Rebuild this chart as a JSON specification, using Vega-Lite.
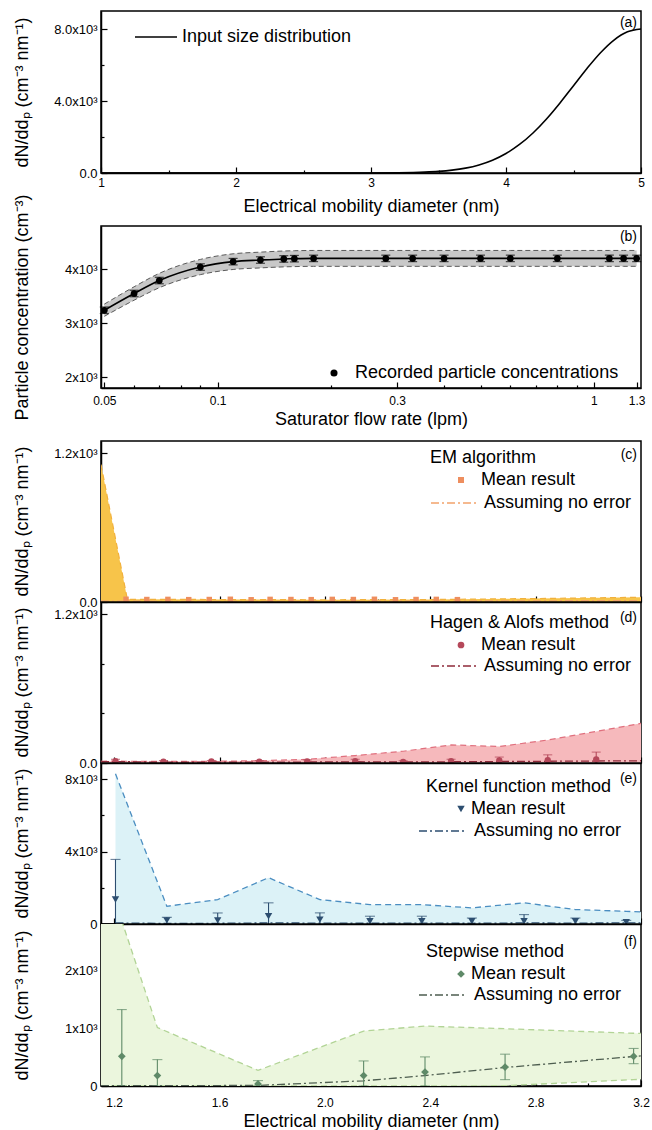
{
"$schema": "https://vega.github.io/schema/vega-lite/v6.json",
"padding": {"left": 12, "top": 10, "right": 3, "bottom": 0},
"spacing": 53,
"bounds": "flush",
"resolve": {"scale": {"color": "independent", "strokeDash": "independent"}, "legend": {"color": "independent", "strokeDash": "independent"}},
"datasets": {
"a_curve": [{"d":1,"n":0},{"d":1.5,"n":0},{"d":2,"n":0},{"d":2.5,"n":0},{"d":3,"n":3},{"d":3.2,"n":12},{"d":3.4,"n":48},{"d":3.5,"n":89},{"d":3.6,"n":159},{"d":3.7,"n":272},{"d":3.8,"n":449},{"d":3.9,"n":711},{"d":4.0,"n":1083},{"d":4.1,"n":1584},{"d":4.2,"n":2224},{"d":4.3,"n":3003},{"d":4.4,"n":3894},{"d":4.5,"n":4852},{"d":4.6,"n":5809},{"d":4.7,"n":6683},{"d":4.8,"n":7385},{"d":4.9,"n":7842},{"d":5.0,"n":8000}],
"b_pts": [
{"q":0.05,"c":3240,"lo":3127,"hi":3353,"elo":3180,"ehi":3300},
{"q":0.06,"c":3550,"lo":3426,"hi":3674,"elo":3490,"ehi":3610},
{"q":0.07,"c":3790,"lo":3657,"hi":3923,"elo":3730,"ehi":3850},
{"q":0.09,"c":4040,"lo":3899,"hi":4181,"elo":3980,"ehi":4100},
{"q":0.11,"c":4140,"lo":3995,"hi":4285,"elo":4080,"ehi":4200},
{"q":0.13,"c":4170,"lo":4024,"hi":4316,"elo":4110,"ehi":4230},
{"q":0.15,"c":4190,"lo":4043,"hi":4337,"elo":4130,"ehi":4250},
{"q":0.16,"c":4195,"lo":4048,"hi":4342,"elo":4135,"ehi":4255},
{"q":0.18,"c":4200,"lo":4053,"hi":4347,"elo":4140,"ehi":4260},
{"q":0.28,"c":4200,"lo":4053,"hi":4347,"elo":4140,"ehi":4260},
{"q":0.33,"c":4200,"lo":4053,"hi":4347,"elo":4140,"ehi":4260},
{"q":0.4,"c":4200,"lo":4053,"hi":4347,"elo":4140,"ehi":4260},
{"q":0.5,"c":4200,"lo":4053,"hi":4347,"elo":4140,"ehi":4260},
{"q":0.6,"c":4200,"lo":4053,"hi":4347,"elo":4140,"ehi":4260},
{"q":0.8,"c":4200,"lo":4053,"hi":4347,"elo":4140,"ehi":4260},
{"q":1.1,"c":4200,"lo":4053,"hi":4347,"elo":4140,"ehi":4260},
{"q":1.2,"c":4200,"lo":4053,"hi":4347,"elo":4140,"ehi":4260},
{"q":1.3,"c":4200,"lo":4053,"hi":4347,"elo":4140,"ehi":4260}],
"c_band": [{"d":1.15,"lo":0,"hi":1110},{"d":1.25,"lo":0,"hi":22},{"d":1.6,"lo":0,"hi":20},{"d":2.0,"lo":0,"hi":18},{"d":2.4,"lo":0,"hi":20},{"d":2.8,"lo":0,"hi":28},{"d":3.2,"lo":0,"hi":38}],
"c_pts": [{"d":1.245,"m":22},{"d":1.324,"m":20},{"d":1.404,"m":21},{"d":1.483,"m":19},{"d":1.561,"m":20},{"d":1.641,"m":22},{"d":1.72,"m":18},{"d":1.792,"m":21},{"d":1.871,"m":20},{"d":1.948,"m":19},{"d":2.028,"m":21},{"d":2.108,"m":20},{"d":2.188,"m":22},{"d":2.268,"m":18},{"d":2.346,"m":20},{"d":2.423,"m":21},{"d":2.503,"m":19}],
"c_ne": [{"d":1.15,"v":8},{"d":1.25,"v":6},{"d":2.0,"v":5},{"d":2.6,"v":8},{"d":3.2,"v":12}],
"d_band": [{"d":1.15,"lo":0,"hi":14},{"d":1.205,"lo":0,"hi":15},{"d":1.387,"lo":0,"hi":12},{"d":1.569,"lo":0,"hi":14},{"d":1.751,"lo":0,"hi":18},{"d":1.933,"lo":0,"hi":30},{"d":2.115,"lo":0,"hi":60},{"d":2.297,"lo":0,"hi":95},{"d":2.479,"lo":0,"hi":146},{"d":2.662,"lo":0,"hi":133},{"d":2.846,"lo":0,"hi":186},{"d":3.03,"lo":0,"hi":255},{"d":3.2,"lo":0,"hi":320}],
"d_pts": [{"d":1.205,"m":15,"elo":2,"ehi":30},{"d":1.387,"m":10,"elo":2,"ehi":20},{"d":1.569,"m":12,"elo":3,"ehi":20},{"d":1.751,"m":10,"elo":2,"ehi":20},{"d":1.933,"m":12,"elo":2,"ehi":25},{"d":2.115,"m":15,"elo":2,"ehi":30},{"d":2.297,"m":8,"elo":0,"ehi":18},{"d":2.479,"m":15,"elo":2,"ehi":30},{"d":2.662,"m":20,"elo":0,"ehi":48},{"d":2.846,"m":22,"elo":0,"ehi":66},{"d":3.03,"m":28,"elo":0,"ehi":88}],
"d_ne": [{"d":1.15,"v":10},{"d":1.205,"v":12},{"d":1.387,"v":6},{"d":1.569,"v":8},{"d":1.751,"v":6},{"d":1.933,"v":8},{"d":2.115,"v":10},{"d":2.297,"v":8},{"d":2.479,"v":10},{"d":2.662,"v":12},{"d":2.846,"v":14},{"d":3.03,"v":16},{"d":3.2,"v":18}],
"e_band": [{"d":1.205,"lo":0,"hi":8300},{"d":1.40,"lo":0,"hi":980},{"d":1.593,"lo":0,"hi":1350},{"d":1.786,"lo":0,"hi":2560},{"d":1.981,"lo":0,"hi":1350},{"d":2.171,"lo":0,"hi":1070},{"d":2.368,"lo":0,"hi":1070},{"d":2.558,"lo":0,"hi":890},{"d":2.756,"lo":0,"hi":1170},{"d":2.951,"lo":0,"hi":800},{"d":3.144,"lo":0,"hi":700},{"d":3.2,"lo":0,"hi":670}],
"e_pts": [{"d":1.205,"m":1350,"elo":0,"ehi":3570},{"d":1.40,"m":200,"elo":0,"ehi":370},{"d":1.593,"m":200,"elo":0,"ehi":610},{"d":1.786,"m":430,"elo":0,"ehi":1170},{"d":1.981,"m":240,"elo":0,"ehi":615},{"d":2.171,"m":150,"elo":0,"ehi":430},{"d":2.368,"m":150,"elo":0,"ehi":430},{"d":2.558,"m":150,"elo":0,"ehi":330},{"d":2.756,"m":150,"elo":0,"ehi":520},{"d":2.951,"m":150,"elo":0,"ehi":330},{"d":3.144,"m":100,"elo":0,"ehi":200}],
"e_ne": [{"d":1.205,"v":60},{"d":1.40,"v":30},{"d":1.593,"v":40},{"d":1.786,"v":60},{"d":1.981,"v":50},{"d":2.171,"v":40},{"d":2.368,"v":50},{"d":2.558,"v":40},{"d":2.756,"v":60},{"d":2.951,"v":50},{"d":3.144,"v":60},{"d":3.2,"v":60}],
"f_band": [{"d":1.15,"lo":0,"hi":4200},{"d":1.229,"lo":0,"hi":2850},{"d":1.364,"lo":0,"hi":1010},{"d":1.746,"lo":0,"hi":270},{"d":2.147,"lo":0,"hi":950},{"d":2.38,"lo":0,"hi":1035},{"d":2.684,"lo":5,"hi":990},{"d":3.172,"lo":110,"hi":912},{"d":3.2,"lo":115,"hi":910}],
"f_pts": [{"d":1.229,"m":514,"elo":0,"ehi":1321},{"d":1.364,"m":181,"elo":0,"ehi":456},{"d":1.746,"m":35,"elo":0,"ehi":93},{"d":2.147,"m":181,"elo":0,"ehi":433},{"d":2.38,"m":240,"elo":0,"ehi":503},{"d":2.684,"m":327,"elo":110,"ehi":550},{"d":3.172,"m":514,"elo":386,"ehi":649}],
"f_ne": [{"d":1.15,"v":5},{"d":1.229,"v":5},{"d":1.364,"v":5},{"d":1.746,"v":10},{"d":2.147,"v":90},{"d":2.38,"v":180},{"d":2.684,"v":320},{"d":3.172,"v":510},{"d":3.2,"v":520}]
},
"vconcat": [
{
 "width": 540, "height": 162,
 "layer": [
  {"data": {"name": "a_curve"},
   "mark": {"type": "line", "strokeWidth": 1.6, "interpolate": "monotone"},
   "encoding": {
    "x": {"field": "d", "type": "quantitative", "scale": {"domain": [1, 5], "nice": false, "zero": false},
          "axis": {"values": [1,1.5,2,2.5,3,3.5,4,4.5,5], "labelExpr": "datum.value % 1 === 0 ? format(datum.value, 'd') : ''",
                   "tickSize": {"condition": {"test": "datum.value % 1 !== 0", "value": -3}, "value": -6},
                   "title": "Electrical mobility diameter (nm)", "labelPadding": 10, "titleY": 33, "titleBaseline": "middle"}},
    "y": {"field": "n", "type": "quantitative", "scale": {"domain": [0, 9000], "nice": false},
          "axis": {"values": [0,2000,4000,6000,8000],
                   "labelExpr": "datum.value === 0 ? '0.0' : datum.value === 4000 ? '4.0x10³' : datum.value === 8000 ? '8.0x10³' : ''",
                   "tickSize": {"condition": {"test": "datum.value % 4000 !== 0", "value": -3}, "value": -6},
                   "title": "dN/ddₚ (cm⁻³ nm⁻¹)", "titleX": -79, "titleY": 81, "titleBaseline": "middle", "titleAlign": "center"}},
    "color": {"datum": "Input size distribution", "scale": {"range": ["#000000"]},
              "legend": {"orient": "none", "legendX": 33, "legendY": 4, "title": null, "symbolType": "stroke", "symbolSize": 1764, "symbolStrokeWidth": 1.6, "labelOffset": 4}}
   }},
  {"data": {"values": [{}]},
   "mark": {"type": "text", "text": "(a)", "align": "right", "baseline": "top", "dx": -4, "dy": 5, "fontSize": 14},
   "encoding": {"x": {"datum": 5}, "y": {"datum": 9000}}}
 ]
},
{
 "width": 540, "height": 162,
 "layer": [
  {"data": {"name": "b_pts"},
   "mark": {"type": "area", "color": "#c8c8c8", "opacity": 1, "interpolate": "monotone"},
   "encoding": {
    "x": {"field": "q", "type": "quantitative", "scale": {"type": "log", "domain": [0.049, 1.335], "nice": false},
          "axis": {"values": [0.05,0.06,0.07,0.08,0.09,0.1,0.2,0.3,0.4,0.5,0.6,0.7,0.8,0.9,1,1.3],
                   "labelExpr": "indexof([0.05,0.1,0.3,1,1.3], datum.value) >= 0 ? format(datum.value, '~g') : ''",
                   "tickSize": {"condition": {"test": "indexof([0.05,0.1,0.3,1,1.3], datum.value) < 0", "value": -3}, "value": -6},
                   "title": "Saturator flow rate (lpm)", "labelPadding": 13, "titleY": 31, "titleBaseline": "middle"}},
    "y": {"field": "lo", "type": "quantitative", "scale": {"domain": [1800, 4800], "nice": false, "zero": false},
          "axis": {"values": [2000,2500,3000,3500,4000,4500],
                   "labelExpr": "datum.value % 1000 === 0 ? (datum.value/1000) + 'x10³' : ''",
                   "tickSize": {"condition": {"test": "datum.value % 1000 !== 0", "value": -3}, "value": -6},
                   "title": "Particle concentration (cm⁻³)", "titleX": -79, "titleY": 81, "titleBaseline": "middle", "titleAlign": "center"}},
    "y2": {"field": "hi"}
   }},
  {"data": {"name": "b_pts"},
   "mark": {"type": "line", "color": "#5a5a5a", "strokeDash": [5, 3], "strokeWidth": 1, "interpolate": "monotone"},
   "encoding": {"x": {"field": "q", "type": "quantitative"}, "y": {"field": "lo", "type": "quantitative"}}},
  {"data": {"name": "b_pts"},
   "mark": {"type": "line", "color": "#5a5a5a", "strokeDash": [5, 3], "strokeWidth": 1, "interpolate": "monotone"},
   "encoding": {"x": {"field": "q", "type": "quantitative"}, "y": {"field": "hi", "type": "quantitative"}}},
  {"data": {"name": "b_pts"},
   "mark": {"type": "line", "color": "#000000", "strokeWidth": 1.6, "interpolate": "monotone"},
   "encoding": {"x": {"field": "q", "type": "quantitative"}, "y": {"field": "c", "type": "quantitative"}}},
  {"data": {"name": "b_pts"},
   "mark": {"type": "rule", "color": "#000000", "strokeWidth": 1.2},
   "encoding": {"x": {"field": "q", "type": "quantitative"}, "y": {"field": "elo", "type": "quantitative"}, "y2": {"field": "ehi"}}},
  {"data": {"name": "b_pts"},
   "mark": {"type": "tick", "orient": "horizontal", "color": "#000000", "size": 9, "thickness": 1.2},
   "encoding": {"x": {"field": "q", "type": "quantitative"}, "y": {"field": "ehi", "type": "quantitative"}}},
  {"data": {"name": "b_pts"},
   "mark": {"type": "tick", "orient": "horizontal", "color": "#000000", "size": 9, "thickness": 1.2},
   "encoding": {"x": {"field": "q", "type": "quantitative"}, "y": {"field": "elo", "type": "quantitative"}}},
  {"data": {"name": "b_pts"},
   "mark": {"type": "point", "shape": "circle", "filled": true, "size": 45, "opacity": 1},
   "encoding": {"x": {"field": "q", "type": "quantitative"}, "y": {"field": "c", "type": "quantitative"},
    "color": {"datum": "Recorded particle concentrations", "scale": {"range": ["#000000"]},
              "legend": {"orient": "none", "legendX": 224, "legendY": 138, "title": null, "symbolType": "circle", "symbolSize": 50, "labelOffset": 12}}}},
  {"data": {"values": [{}]},
   "mark": {"type": "text", "text": "(b)", "align": "right", "baseline": "top", "dx": -4, "dy": 4, "fontSize": 14},
   "encoding": {"x": {"datum": 1.335}, "y": {"datum": 4800}}}
 ]
},
{
 "vconcat": [
 {
  "width": 540, "height": 161,
  "layer": [
   {"data": {"name": "c_band"},
    "mark": {"type": "area", "color": "#f7c44a", "opacity": 1, "clip": true},
    "encoding": {
     "x": {"field": "d", "type": "quantitative", "scale": {"domain": [1.15, 3.2], "nice": false, "zero": false},
           "axis": {"values": [1.2,1.4,1.6,1.8,2.0,2.2,2.4,2.6,2.8,3.0,3.2], "labels": false, "title": null,
                    "tickSize": {"condition": {"test": "abs((datum.value-1.2)/0.4 - round((datum.value-1.2)/0.4)) > 0.01", "value": -3}, "value": -6}}},
     "y": {"field": "lo", "type": "quantitative", "scale": {"domain": [0, 1300], "nice": false},
           "axis": {"values": [0,200,400,600,800,1000,1200],
                    "labelExpr": "datum.value === 0 ? '0.0' : datum.value === 600 ? '6.0x10²' : datum.value === 1200 ? '1.2x10³' : ''",
                    "tickSize": {"condition": {"test": "datum.value % 600 !== 0", "value": -3}, "value": -6},
                    "title": "dN/ddₚ (cm⁻³ nm⁻¹)", "titleX": -79, "titleY": 80, "titleBaseline": "middle", "titleAlign": "center"}},
     "y2": {"field": "hi"}
    }},
   {"data": {"name": "c_band"},
    "mark": {"type": "line", "color": "#f2b13c", "strokeDash": [6, 4], "strokeWidth": 1.2, "clip": true},
    "encoding": {"x": {"field": "d", "type": "quantitative"}, "y": {"field": "hi", "type": "quantitative"}}},
   {"data": {"name": "c_ne"},
    "mark": {"type": "line", "color": "#f2a36b", "strokeWidth": 1.3, "clip": true},
    "encoding": {"x": {"field": "d", "type": "quantitative"}, "y": {"field": "v", "type": "quantitative"},
     "strokeDash": {"datum": "Assuming no error", "scale": {"range": [[8, 3, 2, 3]]},
                    "legend": {"orient": "none", "legendX": 329, "legendY": 38, "title": null, "symbolType": "stroke", "symbolSize": 2116, "symbolStrokeColor": "#f2a36b", "symbolStrokeWidth": 1.5, "labelOffset": 6}}}},
   {"data": {"name": "c_pts"},
    "mark": {"type": "point", "shape": "square", "filled": true, "size": 30, "opacity": 1, "clip": true},
    "encoding": {"x": {"field": "d", "type": "quantitative"}, "y": {"field": "m", "type": "quantitative"},
     "color": {"datum": "Mean result", "scale": {"range": ["#ee8e5e"]},
               "legend": {"orient": "none", "legendX": 329, "legendY": 8, "title": "EM algorithm", "symbolType": "square", "symbolSize": 36, "symbolOffset": 22, "labelOffset": 11, "titlePadding": 4}}}},
   {"data": {"values": [{}]},
    "mark": {"type": "text", "text": "(c)", "align": "right", "baseline": "top", "dx": -4, "dy": 7, "fontSize": 14},
    "encoding": {"x": {"datum": 3.2}, "y": {"datum": 1300}}}
  ]
 },
 {
  "width": 540, "height": 161,
  "layer": [
   {"data": {"name": "d_band"},
    "mark": {"type": "area", "color": "#f6b9bc", "opacity": 1, "clip": true},
    "encoding": {
     "x": {"field": "d", "type": "quantitative", "scale": {"domain": [1.15, 3.2], "nice": false, "zero": false},
           "axis": {"values": [1.2,1.4,1.6,1.8,2.0,2.2,2.4,2.6,2.8,3.0,3.2], "labels": false, "title": null,
                    "tickSize": {"condition": {"test": "abs((datum.value-1.2)/0.4 - round((datum.value-1.2)/0.4)) > 0.01", "value": -3}, "value": -6}}},
     "y": {"field": "lo", "type": "quantitative", "scale": {"domain": [0, 1300], "nice": false},
           "axis": {"values": [0,200,400,600,800,1000,1200],
                    "labelExpr": "datum.value === 0 ? '0.0' : datum.value === 600 ? '6.0x10²' : datum.value === 1200 ? '1.2x10³' : ''",
                    "tickSize": {"condition": {"test": "datum.value % 600 !== 0", "value": -3}, "value": -6},
                    "title": "dN/ddₚ (cm⁻³ nm⁻¹)", "titleX": -79, "titleY": 80, "titleBaseline": "middle", "titleAlign": "center"}},
     "y2": {"field": "hi"}
    }},
   {"data": {"name": "d_band"},
    "mark": {"type": "line", "color": "#e0707e", "strokeDash": [6, 4], "strokeWidth": 1.2, "clip": true},
    "encoding": {"x": {"field": "d", "type": "quantitative"}, "y": {"field": "hi", "type": "quantitative"}}},
   {"data": {"name": "d_ne"},
    "mark": {"type": "line", "color": "#8e2a3a", "strokeWidth": 1.3, "clip": true},
    "encoding": {"x": {"field": "d", "type": "quantitative"}, "y": {"field": "v", "type": "quantitative"},
     "strokeDash": {"datum": "Assuming no error", "scale": {"range": [[8, 3, 2, 3]]},
                    "legend": {"orient": "none", "legendX": 329, "legendY": 40, "title": null, "symbolType": "stroke", "symbolSize": 2116, "symbolStrokeColor": "#8e2a3a", "symbolStrokeWidth": 1.5, "labelOffset": 6}}}},
   {"data": {"name": "d_pts"},
    "mark": {"type": "rule", "color": "#b5485a", "strokeWidth": 1.1, "clip": true},
    "encoding": {"x": {"field": "d", "type": "quantitative"}, "y": {"field": "elo", "type": "quantitative"}, "y2": {"field": "ehi"}}},
   {"data": {"name": "d_pts"},
    "mark": {"type": "tick", "orient": "horizontal", "color": "#b5485a", "size": 9, "thickness": 1.1, "clip": true},
    "encoding": {"x": {"field": "d", "type": "quantitative"}, "y": {"field": "ehi", "type": "quantitative"}}},
   {"data": {"name": "d_pts"},
    "mark": {"type": "point", "shape": "circle", "filled": true, "size": 40, "opacity": 1, "clip": true},
    "encoding": {"x": {"field": "d", "type": "quantitative"}, "y": {"field": "m", "type": "quantitative"},
     "color": {"datum": "Mean result", "scale": {"range": ["#b5485a"]},
               "legend": {"orient": "none", "legendX": 329, "legendY": 12, "title": "Hagen & Alofs method", "symbolType": "circle", "symbolSize": 45, "symbolOffset": 22, "labelOffset": 11, "titlePadding": 4}}}},
   {"data": {"values": [{}]},
    "mark": {"type": "text", "text": "(d)", "align": "right", "baseline": "top", "dx": -4, "dy": 9, "fontSize": 14},
    "encoding": {"x": {"datum": 3.2}, "y": {"datum": 1300}}}
  ]
 },
 {
  "width": 540, "height": 161,
  "layer": [
   {"data": {"name": "e_band"},
    "mark": {"type": "area", "color": "#dcf2f7", "opacity": 1, "clip": true},
    "encoding": {
     "x": {"field": "d", "type": "quantitative", "scale": {"domain": [1.15, 3.2], "nice": false, "zero": false},
           "axis": {"values": [1.2,1.4,1.6,1.8,2.0,2.2,2.4,2.6,2.8,3.0,3.2], "labels": false, "title": null,
                    "tickSize": {"condition": {"test": "abs((datum.value-1.2)/0.4 - round((datum.value-1.2)/0.4)) > 0.01", "value": -3}, "value": -6}}},
     "y": {"field": "lo", "type": "quantitative", "scale": {"domain": [0, 8900], "nice": false},
           "axis": {"values": [0,2000,4000,6000,8000],
                    "labelExpr": "datum.value === 0 ? '0' : datum.value % 4000 === 0 ? (datum.value/1000) + 'x10³' : ''",
                    "tickSize": {"condition": {"test": "datum.value % 4000 !== 0", "value": -3}, "value": -6},
                    "title": "dN/ddₚ (cm⁻³ nm⁻¹)", "titleX": -79, "titleY": 80, "titleBaseline": "middle", "titleAlign": "center"}},
     "y2": {"field": "hi"}
    }},
   {"data": {"name": "e_band"},
    "mark": {"type": "line", "color": "#4b8ec1", "strokeDash": [6, 4], "strokeWidth": 1.3, "clip": true},
    "encoding": {"x": {"field": "d", "type": "quantitative"}, "y": {"field": "hi", "type": "quantitative"}}},
   {"data": {"name": "e_ne"},
    "mark": {"type": "line", "color": "#2d4e70", "strokeWidth": 1.3, "clip": true},
    "encoding": {"x": {"field": "d", "type": "quantitative"}, "y": {"field": "v", "type": "quantitative"},
     "strokeDash": {"datum": "Assuming no error", "scale": {"range": [[8, 3, 2, 3]]},
                    "legend": {"orient": "none", "legendX": 317, "legendY": 44, "title": null, "symbolType": "stroke", "symbolSize": 2116, "symbolStrokeColor": "#2d4e70", "symbolStrokeWidth": 1.5, "labelOffset": 8}}}},
   {"data": {"name": "e_pts"},
    "mark": {"type": "rule", "color": "#2d4e70", "strokeWidth": 1.1, "clip": true},
    "encoding": {"x": {"field": "d", "type": "quantitative"}, "y": {"field": "elo", "type": "quantitative"}, "y2": {"field": "ehi"}}},
   {"data": {"name": "e_pts"},
    "mark": {"type": "tick", "orient": "horizontal", "color": "#2d4e70", "size": 10, "thickness": 1.1, "clip": true},
    "encoding": {"x": {"field": "d", "type": "quantitative"}, "y": {"field": "ehi", "type": "quantitative"}}},
   {"data": {"name": "e_pts"},
    "mark": {"type": "point", "shape": "triangle-down", "filled": true, "size": 55, "opacity": 1, "clip": true},
    "encoding": {"x": {"field": "d", "type": "quantitative"}, "y": {"field": "m", "type": "quantitative"},
     "color": {"datum": "Mean result", "scale": {"range": ["#2d4e70"]},
               "legend": {"orient": "none", "legendX": 325, "legendY": 15, "title": "Kernel function method", "symbolType": "triangle-down", "symbolSize": 55, "symbolOffset": 26, "labelOffset": 1, "titlePadding": 4}}}},
   {"data": {"values": [{}]},
    "mark": {"type": "text", "text": "(e)", "align": "right", "baseline": "top", "dx": -4, "dy": 9, "fontSize": 14},
    "encoding": {"x": {"datum": 3.2}, "y": {"datum": 8900}}}
  ]
 },
 {
  "width": 540, "height": 162,
  "layer": [
   {"data": {"name": "f_band"},
    "mark": {"type": "area", "color": "#ebf6dd", "opacity": 1, "clip": true},
    "encoding": {
     "x": {"field": "d", "type": "quantitative", "scale": {"domain": [1.15, 3.2], "nice": false, "zero": false},
           "axis": {"values": [1.2,1.4,1.6,1.8,2.0,2.2,2.4,2.6,2.8,3.0,3.2], "format": ".1f",
                    "labelExpr": "abs((datum.value-1.2)/0.4 - round((datum.value-1.2)/0.4)) < 0.01 ? datum.label : ''",
                    "tickSize": {"condition": {"test": "abs((datum.value-1.2)/0.4 - round((datum.value-1.2)/0.4)) > 0.01", "value": -3}, "value": -6},
                    "title": "Electrical mobility diameter (nm)", "labelPadding": 17, "titleY": 35, "titleBaseline": "middle"}},
     "y": {"field": "lo", "type": "quantitative", "scale": {"domain": [0, 2800], "nice": false},
           "axis": {"values": [0,500,1000,1500,2000,2500],
                    "labelExpr": "datum.value === 0 ? '0' : datum.value % 1000 === 0 ? (datum.value/1000) + 'x10³' : ''",
                    "tickSize": {"condition": {"test": "datum.value % 1000 !== 0", "value": -3}, "value": -6},
                    "title": "dN/ddₚ (cm⁻³ nm⁻¹)", "titleX": -79, "titleY": 81, "titleBaseline": "middle", "titleAlign": "center"}},
     "y2": {"field": "hi"}
    }},
   {"data": {"name": "f_band"},
    "mark": {"type": "line", "color": "#b2d496", "strokeDash": [6, 4], "strokeWidth": 1.3, "clip": true},
    "encoding": {"x": {"field": "d", "type": "quantitative"}, "y": {"field": "hi", "type": "quantitative"}}},
   {"data": {"name": "f_band"},
    "mark": {"type": "line", "color": "#b2d496", "strokeDash": [6, 4], "strokeWidth": 1.3, "clip": true},
    "encoding": {"x": {"field": "d", "type": "quantitative"}, "y": {"field": "lo", "type": "quantitative"}}},
   {"data": {"name": "f_ne"},
    "mark": {"type": "line", "color": "#4e5e50", "strokeWidth": 1.3, "clip": true},
    "encoding": {"x": {"field": "d", "type": "quantitative"}, "y": {"field": "v", "type": "quantitative"},
     "strokeDash": {"datum": "Assuming no error", "scale": {"range": [[8, 3, 2, 3]]},
                    "legend": {"orient": "none", "legendX": 317, "legendY": 47, "title": null, "symbolType": "stroke", "symbolSize": 2116, "symbolStrokeColor": "#4e5e50", "symbolStrokeWidth": 1.5, "labelOffset": 8}}}},
   {"data": {"name": "f_pts"},
    "mark": {"type": "rule", "color": "#5f8a68", "strokeWidth": 1.1, "clip": true},
    "encoding": {"x": {"field": "d", "type": "quantitative"}, "y": {"field": "elo", "type": "quantitative"}, "y2": {"field": "ehi"}}},
   {"data": {"name": "f_pts"},
    "mark": {"type": "tick", "orient": "horizontal", "color": "#5f8a68", "size": 10, "thickness": 1.1, "clip": true},
    "encoding": {"x": {"field": "d", "type": "quantitative"}, "y": {"field": "ehi", "type": "quantitative"}}},
   {"data": {"name": "f_pts"},
    "mark": {"type": "tick", "orient": "horizontal", "color": "#5f8a68", "size": 10, "thickness": 1.1, "clip": true},
    "encoding": {"x": {"field": "d", "type": "quantitative"}, "y": {"field": "elo", "type": "quantitative"}}},
   {"data": {"name": "f_pts"},
    "mark": {"type": "point", "shape": "diamond", "filled": true, "size": 60, "opacity": 1, "clip": true},
    "encoding": {"x": {"field": "d", "type": "quantitative"}, "y": {"field": "m", "type": "quantitative"},
     "color": {"datum": "Mean result", "scale": {"range": ["#5f8a68"]},
               "legend": {"orient": "none", "legendX": 325, "legendY": 19, "title": "Stepwise method", "symbolType": "diamond", "symbolSize": 60, "symbolOffset": 26, "labelOffset": 1, "titlePadding": 4}}}},
   {"data": {"values": [{}]},
    "mark": {"type": "text", "text": "(f)", "align": "right", "baseline": "top", "dx": -4, "dy": 11, "fontSize": 14},
    "encoding": {"x": {"datum": 3.2}, "y": {"datum": 2800}}}
  ]
 }
 ],
 "spacing": 0,
 "bounds": "flush",
 "resolve": {"scale": {"color": "independent", "strokeDash": "independent"}, "legend": {"color": "independent", "strokeDash": "independent"}}
}
],
"config": {
 "font": "Liberation Sans",
 "view": {"stroke": "#000000", "strokeWidth": 1.5},
 "axis": {"labelFont": "Liberation Sans", "labelColor": "#000000", "titleFont": "Liberation Sans", "titleFontSize": 18, "titleFontWeight": "normal", "titleColor": "#000000", "domainColor": "#000000", "domainWidth": 1.5, "tickColor": "#000000", "tickWidth": 1.2, "grid": false, "labelFlush": false, "labelOverlap": false, "labelBound": false},
 "axisX": {"labelFontSize": 12},
 "axisY": {"labelFontSize": 13, "labelPadding": 10},
 "legend": {"labelFont": "Liberation Sans", "labelFontSize": 18, "labelColor": "#000000", "titleFont": "Liberation Sans", "titleFontSize": 18, "titleFontWeight": "normal", "titleColor": "#000000", "padding": 0, "labelLimit": 400, "titleLimit": 400},
 "text": {"font": "Liberation Sans", "color": "#000000"}
}
}
